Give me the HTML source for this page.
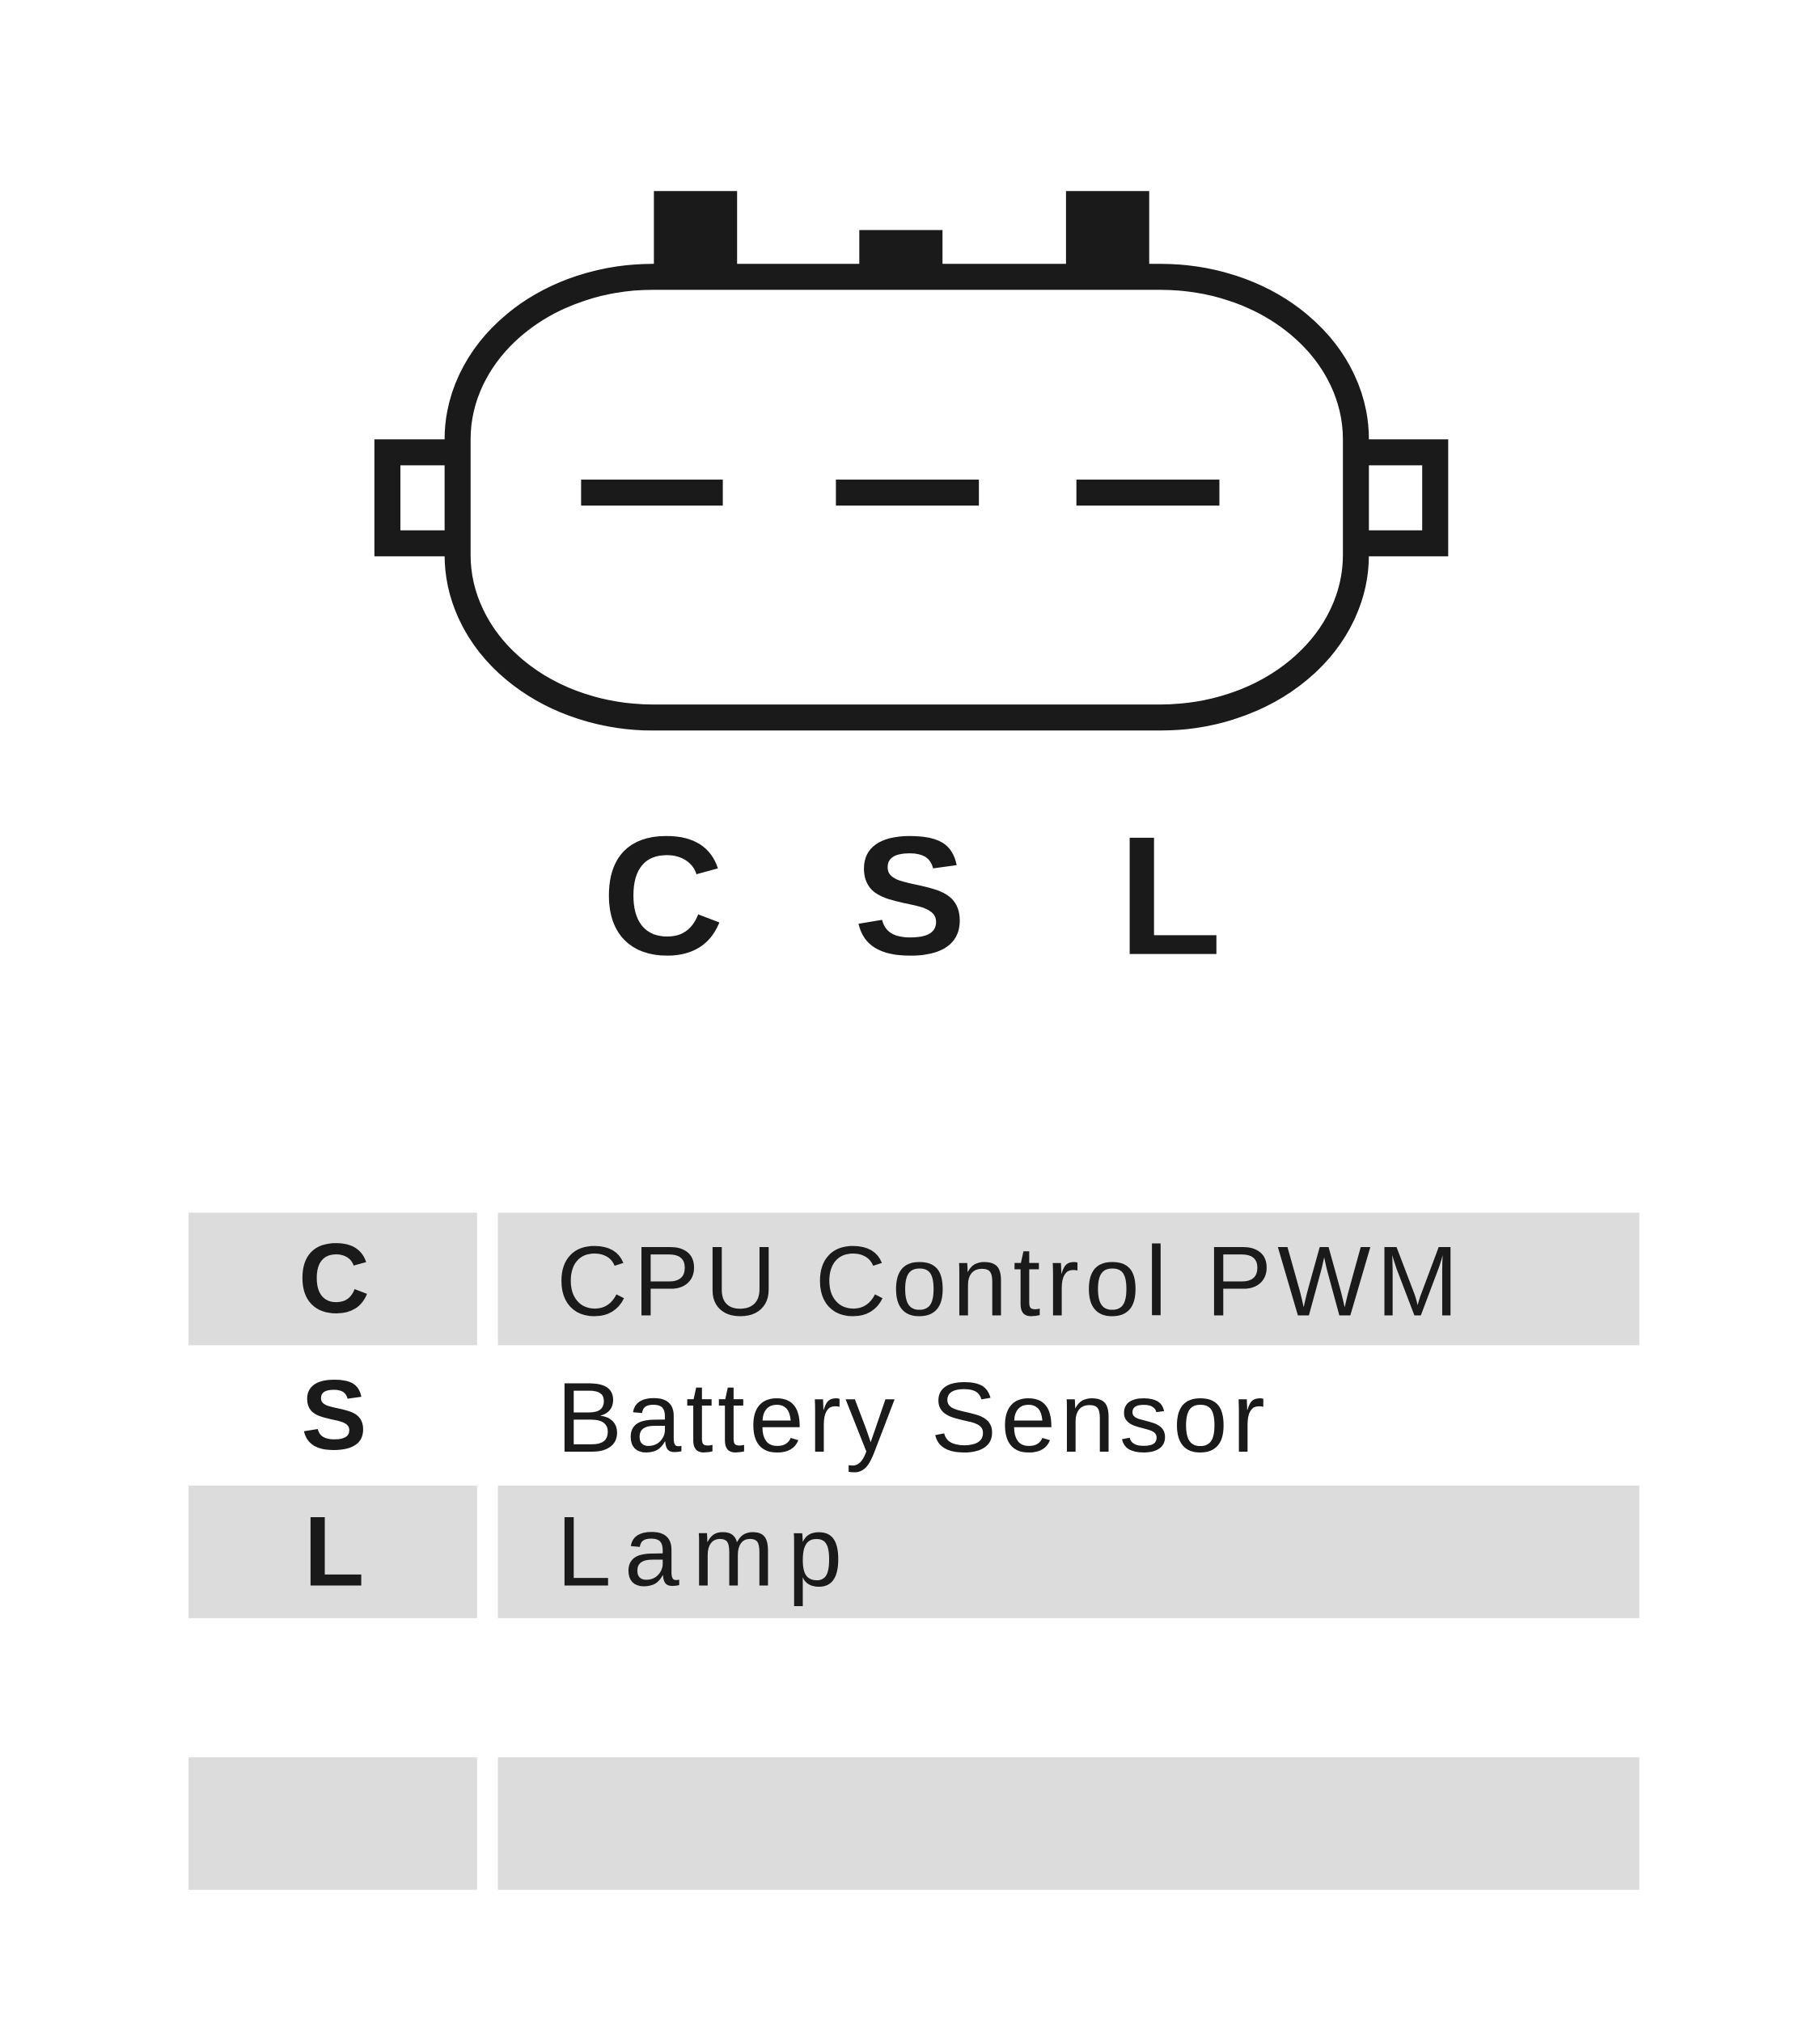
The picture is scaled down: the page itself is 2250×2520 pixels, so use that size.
<!DOCTYPE html>
<html><head><meta charset="utf-8"><style>
html,body{margin:0;padding:0;background:#fff;}
svg{display:block;}
</style></head><body>
<svg width="2250" height="2520" viewBox="0 0 1400 1568" xmlns="http://www.w3.org/2000/svg">
<rect width="1400" height="1568" fill="#fff"/>
<!-- tabs -->
<rect x="503" y="147" width="64" height="66" fill="#1a1a1a"/>
<rect x="661" y="177" width="64" height="36" fill="#1a1a1a"/>
<rect x="820" y="147" width="64" height="66" fill="#1a1a1a"/>
<!-- flanges -->
<path d="M352 348 L298 348 L298 418 L352 418" fill="none" stroke="#1a1a1a" stroke-width="20"/>
<path d="M1043 348 L1104 348 L1104 418 L1043 418" fill="none" stroke="#1a1a1a" stroke-width="20"/>
<!-- body -->
<rect x="352" y="213" width="691" height="339" rx="150" ry="125" fill="none" stroke="#1a1a1a" stroke-width="20"/>
<!-- dashes -->
<rect x="447" y="369" width="109" height="20" fill="#1a1a1a"/>
<rect x="643" y="369" width="110" height="20" fill="#1a1a1a"/>
<rect x="828" y="369" width="110" height="20" fill="#1a1a1a"/>
<!-- CSL -->
<g font-family="Liberation Sans, sans-serif" font-weight="bold" font-size="130" fill="#1a1a1a" text-anchor="middle">
<text x="510" y="734">C</text>
<text x="700" y="734">S</text>
<text x="900" y="734">L</text>
</g>
<!-- table -->
<g fill="#dcdcdc">
<rect x="145" y="933" width="222" height="102"/>
<rect x="383" y="933" width="878" height="102"/>
<rect x="145" y="1143" width="222" height="102"/>
<rect x="383" y="1143" width="878" height="102"/>
<rect x="145" y="1352" width="222" height="102"/>
<rect x="383" y="1352" width="878" height="102"/>
</g>
<g font-family="Liberation Sans, sans-serif" fill="#1a1a1a" font-size="76">
<text x="257" y="1010" text-anchor="middle" font-weight="bold">C</text>
<text x="257" y="1115" text-anchor="middle" font-weight="bold">S</text>
<text x="257" y="1220" text-anchor="middle" font-weight="bold">L</text>
<text x="428" y="1012" textLength="694">CPU Control PWM</text>
<text x="428" y="1117" textLength="545">Battery Sensor</text>
<text x="428" y="1220" textLength="220">Lamp</text>
</g>
</svg>
</body></html>
